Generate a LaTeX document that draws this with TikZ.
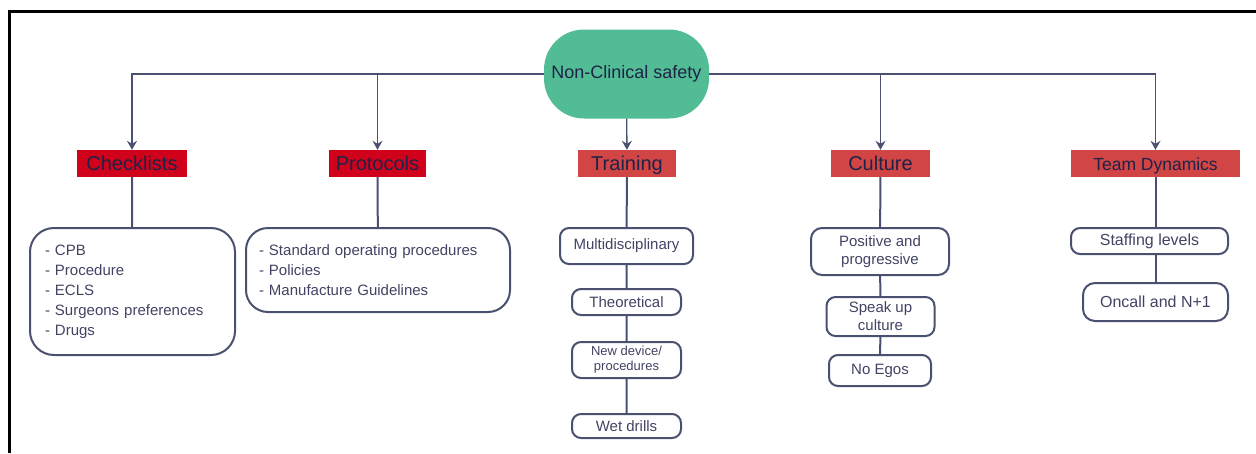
\documentclass[tikz,border=0pt]{standalone}
\usepackage{fontspec}
\setmainfont{Liberation Sans}
\usetikzlibrary{arrows.meta,positioning}
\definecolor{mint}{HTML}{52BD94}
\definecolor{crimson}{HTML}{D0021B}
\definecolor{brick}{HTML}{D14545}
\definecolor{slate}{HTML}{4A5170}
\definecolor{ink}{HTML}{1F2248}
\begin{document}
\begin{tikzpicture}[x=1pt, y=-1pt,
    every node/.style = {font=\fontsize{15}{20}\selectfont, text=ink},
    root/.style = {fill=mint, rounded corners=40pt,
      minimum width=165pt, minimum height=89pt,
      font=\fontsize{18}{22}\selectfont},
    topic/.style = {fill=brick, minimum height=27pt, inner sep=0pt,
      text height=17pt, text depth=4pt,
      font=\fontsize{20}{22}\selectfont},
    item/.style = {draw=slate, line width=2pt, rounded corners=9pt,
      align=center, inner sep=0pt, text=ink!85},
    feed/.style = {draw=slate, line width=1.3pt,
      -{Stealth[length=9pt,width=10pt,inset=3pt]}},
    tie/.style = {draw=slate, line width=2pt}]
  \useasboundingbox (0,0) rectangle (1256,453);
  \draw[line width=3pt] (9.5,453) -- (9.5,11.5) -- (1256,11.5);

  \node[root] (root) at (626.5,74) {Non-Clinical safety};

  \node[topic, fill=crimson, minimum width=110pt] (check) at (132,163.5) {Checklists};
  \node[topic, fill=crimson, minimum width=97pt] (proto) at (377.5,163.5) {Protocols};
  \node[topic, minimum width=98pt] (train) at (627,163.5) {Training};
  \node[topic, minimum width=99pt] (cult) at (880.5,163.5) {Culture};
  \node[topic, minimum width=169pt, font=\fontsize{17.5}{20}\selectfont] (team) at (1155.5,163.5) {Team Dynamics};

  \draw[feed] (root.west) -| (check);
  \draw[feed] (root.west) -| (proto);
  \draw[feed] (root) -- (train);
  \draw[feed] (root.east) -| (cult);
  \draw[feed] (root.east) -| (team);

  \node[item, minimum width=205pt, minimum height=127pt, rounded corners=24pt,
    text width=175pt, align=left] (checkbox) at (132.5,291.5)
    {- CPB\\- Procedure\\- ECLS\\- Surgeons preferences\\- Drugs};
  \node[item, minimum width=264pt, minimum height=84pt, rounded corners=22pt,
    text width=238pt, align=left] (protobox) at (378,270)
    {- Standard operating procedures\\- Policies\\- Manufacture Guidelines};

  \node[item, minimum width=133pt, minimum height=36pt] (multi) at (626.5,246) {Multidisciplinary};
  \node[item, minimum width=109pt, minimum height=26pt] (theory) at (626.5,302) {Theoretical};
  \node[item, minimum width=109pt, minimum height=36pt,
    font=\fontsize{13}{15}\selectfont] (device) at (626.5,360) {New device/\\procedures};
  \node[item, minimum width=109pt, minimum height=24pt] (drills) at (626.5,426) {Wet drills};

  \node[item, minimum width=138pt, minimum height=47pt, rounded corners=11pt,
    font=\fontsize{15}{18}\selectfont] (posit) at (880,251.5) {Positive and\\progressive};
  \node[item, minimum width=108pt, minimum height=39pt,
    font=\fontsize{15}{18}\selectfont] (speak) at (880.5,316.5) {Speak up\\culture};
  \node[item, minimum width=102pt, minimum height=31pt] (egos) at (880,370.5) {No Egos};

  \node[item, minimum width=157pt, minimum height=26pt,
    font=\fontsize{16}{20}\selectfont] (staff) at (1149.5,241) {Staffing levels};
  \node[item, minimum width=145pt, minimum height=38pt, rounded corners=12pt,
    font=\fontsize{16}{20}\selectfont] (oncall) at (1155.5,302) {Oncall and N+1};

  \draw[tie] (check) -- (checkbox);
  \draw[tie] (proto) -- (protobox);
  \draw[tie] (train) -- (multi) -- (theory) -- (device) -- (drills);
  \draw[tie] (cult) -- (posit) -- (speak) -- (egos);
  \draw[tie] (team.south) -- (team.south |- staff.north);
  \draw[tie] (team.south |- staff.south) -- (oncall.north);
\end{tikzpicture}
\end{document}
